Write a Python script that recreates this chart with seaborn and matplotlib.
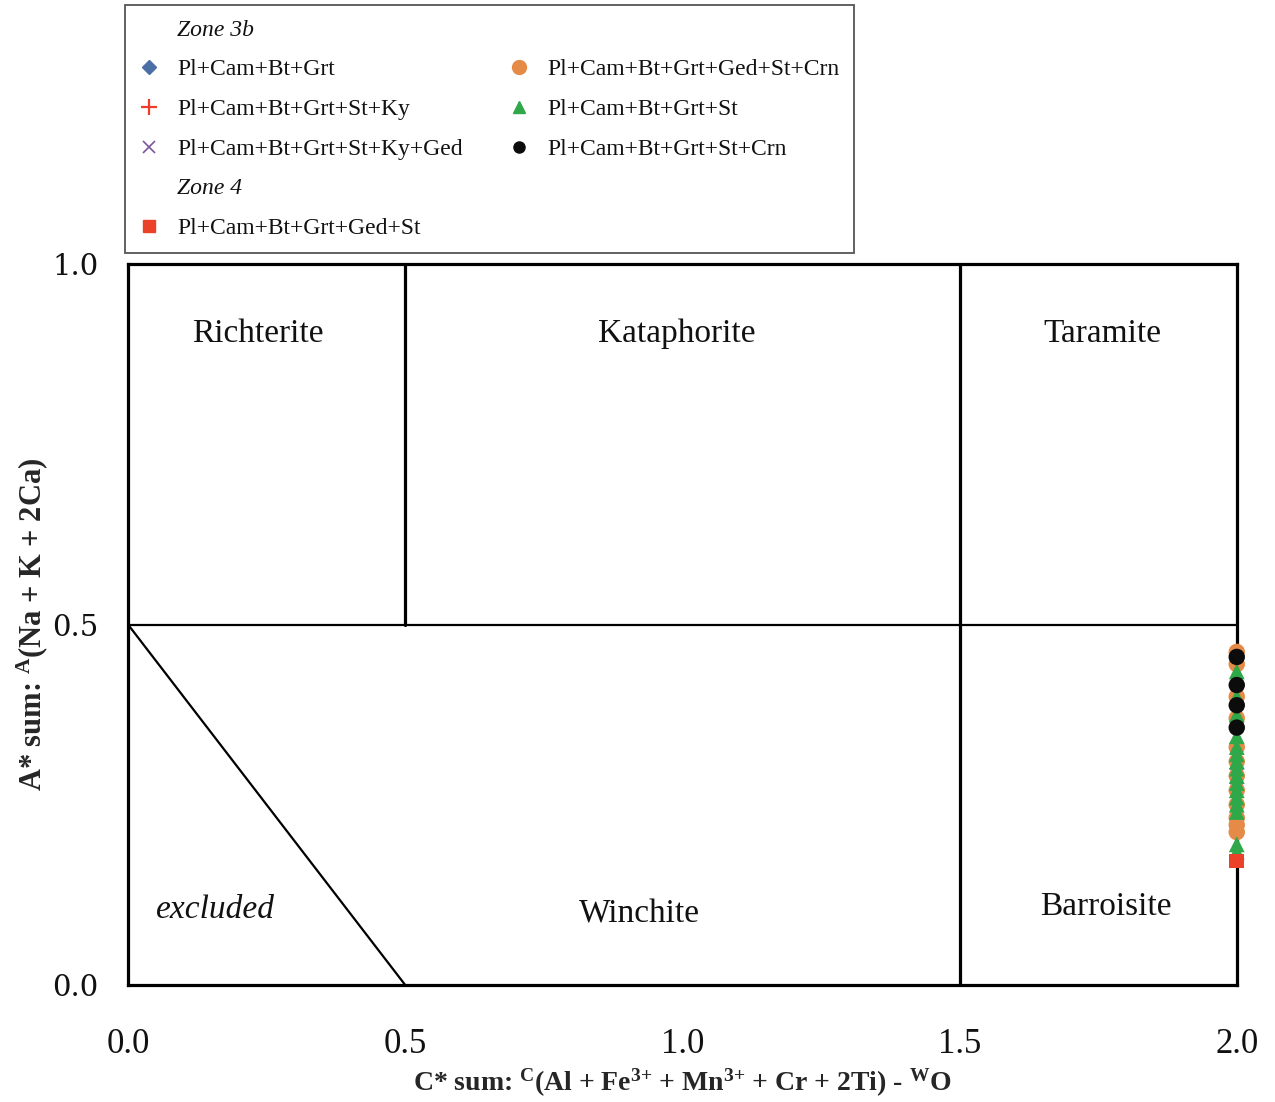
import matplotlib
matplotlib.use("Agg")
import matplotlib.pyplot as plt
from matplotlib.lines import Line2D
import seaborn as sns

# Amphibole classification (A* sum vs C* sum) for Zone 3b and Zone 4 assemblages
x_max = 2.0

# Sample compositions (all plot on C* = 2.0)
grt_y = [0.28, 0.30]                     # Pl+Cam+Bt+Grt
st_ky_y = [0.27, 0.31]                   # Pl+Cam+Bt+Grt+St+Ky
st_ky_ged_y = [0.29]                     # Pl+Cam+Bt+Grt+St+Ky+Ged
ged_st_crn_y = [0.462, 0.445, 0.40, 0.37, 0.33, 0.31, 0.29, 0.27,
                0.25, 0.232, 0.222, 0.212]   # Pl+Cam+Bt+Grt+Ged+St+Crn
st_y = [0.435, 0.425, 0.40, 0.375, 0.345, 0.33, 0.32, 0.31, 0.30, 0.29,
        0.28, 0.27, 0.26, 0.25, 0.24, 0.195, 0.185]   # Pl+Cam+Bt+Grt+St
st_crn_y = [0.455, 0.416, 0.388, 0.357]  # Pl+Cam+Bt+Grt+St+Crn
z4_ged_st_y = [0.172]                    # Zone 4: Pl+Cam+Bt+Grt+Ged+St

labels = ["Pl+Cam+Bt+Grt", "Pl+Cam+Bt+Grt+St+Ky", "Pl+Cam+Bt+Grt+St+Ky+Ged",
          "Pl+Cam+Bt+Grt+Ged+St+Crn", "Pl+Cam+Bt+Grt+St", "Pl+Cam+Bt+Grt+St+Crn",
          "Pl+Cam+Bt+Grt+Ged+St"]

# Field names and label positions (C*, A*)
fields = ["Richterite", "Kataphorite", "Taramite", "Winchite", "Barroisite"]
field_x = [0.234, 0.99, 1.758, 0.923, 1.764]
field_y = [0.903, 0.903, 0.903, 0.098, 0.108]

sns.set_theme(style="white")
plt.rcParams["font.family"] = ["Liberation Serif", "DejaVu Serif"]
plt.rcParams["mathtext.fontset"] = "custom"
plt.rcParams["mathtext.rm"] = "Liberation Serif"
plt.rcParams["mathtext.bf"] = "Liberation Serif:bold"
plt.rcParams["mathtext.it"] = "Liberation Serif:italic"
plt.rcParams["mathtext.default"] = "bf"

fig = plt.figure(figsize=(12.75, 11.02), dpi=100)
ax = fig.add_axes([0.1004, 0.1062, 0.8696, 0.6542])

# Field boundaries
lw_thick = 2.3
lw_thin = 1.6
ax.plot([0.5, 0.5], [0.5, 1.0], color="black", lw=lw_thick, zorder=2)
ax.plot([1.5, 1.5], [0.0, 1.0], color="black", lw=lw_thick, zorder=2)
ax.plot([0.0, x_max], [0.5, 0.5], color="black", lw=lw_thin, zorder=2)
ax.plot([0.0, 0.5], [0.5, 0.0], color="black", lw=lw_thin, zorder=2)

c_blue = "#4c6ea6"
c_red = "#ef3b2a"
c_purple = "#7b559e"
c_orange = "#e58a47"
c_green = "#2fa84a"
c_black = "#0c0c0c"
c_square = "#ea4128"

def col(vals):
    return [x_max] * len(vals)

common = dict(ax=ax, legend=False, clip_on=False)
sns.scatterplot(x=col(grt_y), y=grt_y, marker="D", color=c_blue, s=60,
                edgecolor="none", zorder=3, **common)
sns.scatterplot(x=col(st_ky_y), y=st_ky_y, marker="+", color=c_red, s=60,
                linewidth=1.5, zorder=3, **common)
sns.scatterplot(x=col(st_ky_ged_y), y=st_ky_ged_y, marker="x", color=c_purple, s=50,
                linewidth=1.5, zorder=3, **common)
sns.scatterplot(x=col(ged_st_crn_y), y=ged_st_crn_y, marker="o", color=c_orange, s=140,
                edgecolor="none", zorder=4, **common)
sns.scatterplot(x=col(st_y), y=st_y, marker="^", color=c_green, s=130,
                edgecolor="none", zorder=5, **common)
sns.scatterplot(x=col(st_crn_y), y=st_crn_y, marker="o", color=c_black, s=140,
                edgecolor="none", zorder=6, **common)
sns.scatterplot(x=col(z4_ged_st_y), y=z4_ged_st_y, marker="s", color=c_square, s=110,
                edgecolor="none", zorder=6, **common)

# Field names
for name, fx, fy in zip(fields, field_x, field_y):
    ax.text(fx, fy, name, ha="center", va="center", fontsize=24, color="#111111")
ax.text(0.157, 0.104, "excluded", ha="center", va="center", fontsize=24,
        style="italic", color="#111111")

ax.set_xlim(0, x_max)
ax.set_ylim(0, 1.0)
ax.set_xticks([0.0, 0.5, 1.0, 1.5, 2.0])
ax.set_xticklabels(["0.0", "0.5", "1.0", "1.5", "2.0"])
ax.set_yticks([0.0, 0.5, 1.0])
ax.set_yticklabels(["0.0", "0.5", "1.0"])
ax.tick_params(axis="x", direction="out", length=8, width=2, color="black",
               pad=23, labelsize=25, labelcolor="#111111")
ax.tick_params(axis="y", direction="out", length=9, width=2, color="black",
               pad=12, labelsize=21, labelcolor="#111111")
for t in ax.get_yticklabels():
    t.set_fontfamily("DejaVu Serif")
for side in ["left", "bottom", "top", "right"]:
    ax.spines[side].set_visible(True)
    ax.spines[side].set_color("black")
    ax.spines[side].set_linewidth(lw_thick)

ax.set_xlabel(r"C* sum: $^{C}$(Al + Fe$^{3{+}}$ + Mn$^{3{+}}$ + Cr + 2Ti) - $^{W}$O",
              fontsize=20, fontweight="bold", labelpad=4)
ax.set_ylabel(r"A* sum: $^{A}$(Na + K + 2Ca)", fontsize=22, fontweight="bold",
              labelpad=2)

# Legend grouped by zone
blank = Line2D([], [], linestyle="none", marker="")
h_grt = Line2D([], [], linestyle="none", marker="D", color=c_blue, markersize=7)
h_stky = Line2D([], [], linestyle="none", marker="+", color=c_red, markersize=11,
                markeredgewidth=1.6)
h_stkyged = Line2D([], [], linestyle="none", marker="x", color=c_purple, markersize=9,
                   markeredgewidth=1.2)
h_gsc = Line2D([], [], linestyle="none", marker="o", color=c_orange, markersize=10)
h_st = Line2D([], [], linestyle="none", marker="^", color=c_green, markersize=9)
h_sc = Line2D([], [], linestyle="none", marker="o", color=c_black, markersize=8)
h_z4 = Line2D([], [], linestyle="none", marker="s", color=c_square, markersize=9)

handles = [blank, h_grt, h_stky, h_stkyged, blank, h_z4,
           blank, h_gsc, h_st, h_sc, blank, blank]
leg_labels = ["Zone 3b", labels[0], labels[1], labels[2], "Zone 4", labels[6],
              "", labels[3], labels[4], labels[5], "", ""]
leg = fig.legend(handles, leg_labels, ncol=2, loc="upper left",
                 bbox_to_anchor=(0.098, 0.9955), fontsize=17, frameon=True,
                 fancybox=False, edgecolor="#555555", framealpha=1,
                 labelspacing=0.77, handlelength=0.8, handletextpad=0.8,
                 columnspacing=2.0, borderpad=0.6, borderaxespad=0)
leg.get_frame().set_linewidth(1.3)
for t in leg.get_texts():
    t.set_color("#111111")
    if t.get_text().startswith("Zone"):
        t.set_fontstyle("italic")

fig.savefig("out.png", dpi=100, facecolor="white")
